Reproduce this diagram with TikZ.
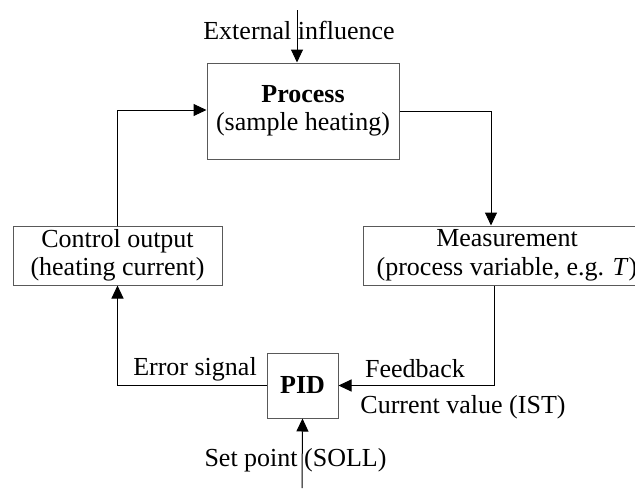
\documentclass[tikz,border=0pt]{standalone}
\usepackage{fontspec}
\setmainfont{Liberation Serif}
\usetikzlibrary{arrows.meta}
\begin{document}
\begin{tikzpicture}[x=1pt,y=-1pt,
  font=\fontsize{26}{28.5}\selectfont,
  blk/.style={draw=black!65, line width=1pt, inner sep=0pt, align=center},
  conn/.style={draw=black, line width=1pt},
  arr/.style={conn, -{Triangle[length=13pt,width=12pt]}},
  lbl/.style={inner sep=0pt, anchor=center}]
\useasboundingbox (0,0) rectangle (635,488);
\node[blk, minimum width=192pt, minimum height=96pt] (proc) at (303,111)
  {\textbf{Process}\\(sample heating)};
\node[blk, minimum width=209pt, minimum height=59pt] (ctrl) at (117.5,255.5)
  {Control output\\(heating current)};
\node[blk, minimum width=288pt, minimum height=59pt] (meas) at (507,255.5)
  {Measurement\\(process variable, e.g. \textit{T})};
\node[blk, minimum width=71pt, minimum height=65pt, font=\fontsize{26}{28.5}\selectfont\bfseries] (pid) at (302.5,385.5) {PID};
\coordinate (ext) at (297,10);
\coordinate (sp) at (302,488);
\node[lbl] (extl) at (299,30) {External influence};
\node[lbl] (errl) at (195,369) {Error signal};
\node[lbl] (fbl) at (415,369) {Feedback};
\node[lbl] (curl) at (463,407) {Current value (IST)};
\node[lbl] (spl) at (295.5,460) {Set point (SOLL)};
\draw[arr] (ext) -- (ext |- proc.north);
\draw[arr] (proc.east) -| ([xshift=-16pt]meas.north);
\draw[arr] ([xshift=-13pt]meas.south) |- (pid.east);
\draw[arr] (pid.west) -| (ctrl.south);
\draw[arr] (ctrl.north) |- ([yshift=1pt]proc.west);
\draw[arr] (sp) -- (pid.south);
\end{tikzpicture}
\end{document}
